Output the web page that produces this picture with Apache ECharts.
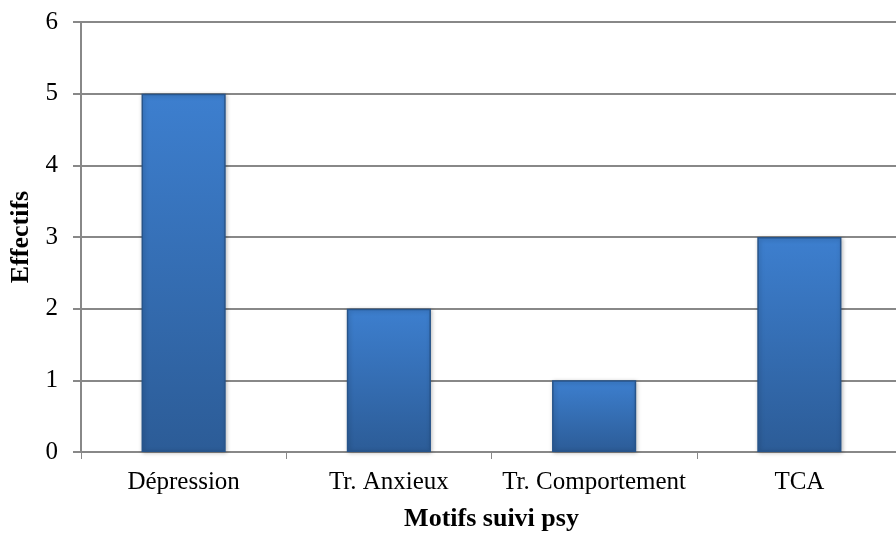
<!DOCTYPE html>
<html><head><meta charset="utf-8">
<script src="https://cdn.jsdelivr.net/npm/echarts@6/dist/echarts.min.js"></script>
<style>html,body{margin:0;padding:0;background:#fff}#c{width:896px;height:536px}</style>
</head><body><div id="c"></div>
<script>
var categories = ['Dépression', 'Tr. Anxieux', 'Tr. Comportement', 'TCA'];
var values = [5, 2, 1, 3];
var yTicks = [0, 1, 2, 3, 4, 5, 6];

var chart = echarts.init(document.getElementById('c'), null, {renderer: 'canvas'});
var font = "'Liberation Serif', 'Times New Roman', serif";
chart.setOption({
  animation: false,
  grid: {left: 81, right: -6, top: 22, bottom: 84, containLabel: false, outerBoundsMode: 'none'},
  xAxis: {
    type: 'category', data: categories,
    name: 'Motifs suivi psy', nameLocation: 'middle', nameGap: 54,
    nameTextStyle: {fontFamily: font, fontSize: 26, fontWeight: 'bold', color: '#000'},
    axisLine: {lineStyle: {color: '#888', width: 2}},
    axisTick: {show: true, length: 7, lineStyle: {color: '#888', width: 1}},
    axisLabel: {fontFamily: font, fontSize: 25, color: '#000', margin: 18, interval: 0}
  },
  yAxis: {
    type: 'value', min: 0, max: 6, interval: 1,
    name: 'Effectifs', nameLocation: 'middle', nameGap: 47, nameRotate: 90,
    nameTextStyle: {fontFamily: font, fontSize: 26, fontWeight: 'bold', color: '#000'},
    axisLine: {show: true, lineStyle: {color: '#888', width: 2}},
    axisTick: {show: true, length: 8, lineStyle: {color: '#888', width: 2}},
    axisLabel: {fontFamily: font, fontSize: 25, color: '#000', margin: 23,
      formatter: function (v) { return yTicks.indexOf(v) >= 0 ? String(v) : ''; }},
    splitLine: {show: true, lineStyle: {color: '#888', width: 2}}
  },
  series: [{
    type: 'bar', data: values, barWidth: '41%',
    itemStyle: {
      color: new echarts.graphic.LinearGradient(0, 0, 0, 1, [
        {offset: 0, color: '#3d7fcf'}, {offset: 1, color: '#2c5c97'}
      ]),
      borderColor: '#27548a', borderWidth: 1.5,
      shadowColor: 'rgba(0,0,0,0.25)', shadowBlur: 4, shadowOffsetX: 1, shadowOffsetY: 1
    }
  }]
});
</script></body></html>
